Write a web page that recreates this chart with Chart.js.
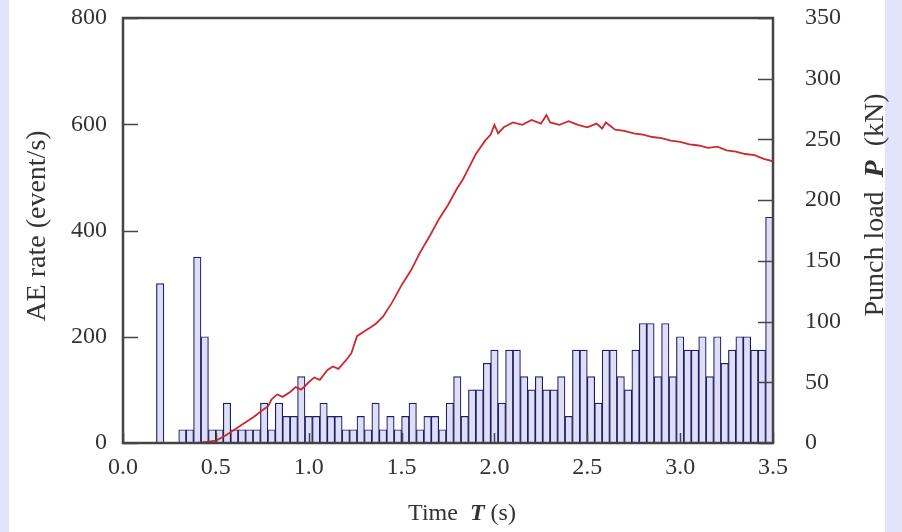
<!DOCTYPE html>
<html>
<head>
<meta charset="utf-8">
<script src="https://cdn.jsdelivr.net/npm/chart.js@4/dist/chart.umd.min.js"></script>
<style>
  html, body { margin: 0; padding: 0; background: #e3e3fb; }
  #wrap { position: relative; width: 902px; height: 532px; }
  canvas { display: block; }
</style>
</head>
<body>
<div id="wrap"><canvas id="aeChart" width="902" height="532"></canvas></div>
<script>
// AE event rate, 0.04 s bins (bin start time, events/s)
const binStart = [
  0.18, 0.22, 0.26, 0.30, 0.34, 0.38, 0.42, 0.46, 0.50, 0.54,
  0.58, 0.62, 0.66, 0.70, 0.74, 0.78, 0.82, 0.86, 0.90, 0.94,
  0.98, 1.02, 1.06, 1.10, 1.14, 1.18, 1.22, 1.26, 1.30, 1.34,
  1.38, 1.42, 1.46, 1.50, 1.54, 1.58, 1.62, 1.66, 1.70, 1.74,
  1.78, 1.82, 1.86, 1.90, 1.94, 1.98, 2.02, 2.06, 2.10, 2.14,
  2.18, 2.22, 2.26, 2.30, 2.34, 2.38, 2.42, 2.46, 2.50, 2.54,
  2.58, 2.62, 2.66, 2.70, 2.74, 2.78, 2.82, 2.86, 2.90, 2.94,
  2.98, 3.02, 3.06, 3.10, 3.14, 3.18, 3.22, 3.26, 3.30, 3.34,
  3.38, 3.42, 3.46
];
const aeRate = [
  300, 0, 0, 25, 25, 350, 200, 25, 25, 75,
  25, 25, 25, 25, 75, 25, 75, 50, 50, 125,
  50, 50, 75, 50, 50, 25, 25, 50, 25, 75,
  25, 50, 25, 50, 75, 25, 50, 50, 25, 75,
  125, 50, 100, 100, 150, 175, 75, 175, 175, 125,
  100, 125, 100, 100, 125, 50, 175, 175, 125, 75,
  175, 175, 125, 100, 175, 225, 225, 125, 225, 125,
  200, 175, 175, 200, 125, 200, 150, 175, 200, 200,
  175, 175, 425
];
const binWidth = 0.04;

// punch load trace (s, kN)
const loadTime = [
  0.15, 0.20, 0.25, 0.30, 0.35, 0.40, 0.45, 0.50, 0.55, 0.60,
  0.65, 0.70, 0.75, 0.78, 0.80, 0.83, 0.86, 0.90, 0.93, 0.96,
  1.00, 1.03, 1.06, 1.10, 1.13, 1.16, 1.20, 1.23, 1.26, 1.30,
  1.33, 1.36, 1.40, 1.45, 1.50, 1.55, 1.60, 1.65, 1.70, 1.75,
  1.80, 1.83, 1.86, 1.90, 1.95, 1.98, 2.00, 2.02, 2.05, 2.10,
  2.15, 2.20, 2.25, 2.28, 2.30, 2.35, 2.40, 2.45, 2.50, 2.55,
  2.58, 2.60, 2.65, 2.70, 2.75, 2.80, 2.85, 2.90, 2.95, 3.00,
  3.05, 3.10, 3.15, 3.20, 3.25, 3.30, 3.35, 3.40, 3.45, 3.50
];
const loadKN = [
  0, 0, 0, 0, 0, 0, 1, 2, 6, 11,
  16, 21, 27, 30, 36, 40, 38, 42, 46, 44,
  50, 54, 52, 60, 63, 61, 68, 74, 88, 92,
  95, 98, 104, 116, 130, 142, 157, 170, 184, 196,
  210, 217, 226, 238, 249, 254, 262, 255, 260, 264,
  262, 266, 263, 270, 264, 262, 265, 262, 260, 263,
  259, 264, 258, 257, 255, 254, 252, 251, 249, 248,
  246, 245, 243, 244, 241, 240, 238, 237, 234, 232
];

const xTicks = [0, 0.5, 1.0, 1.5, 2.0, 2.5, 3.0, 3.5];

const serif = "'Liberation Serif', 'DejaVu Serif', serif";
const inkColor = '#333333';

// white sheet behind the plot, lavender margins
const pagePlugin = {
  id: 'page',
  beforeDraw(chart) {
    const ctx = chart.ctx;
    ctx.save();
    ctx.fillStyle = '#e3e3fb';
    ctx.fillRect(0, 0, chart.width, chart.height);
    ctx.fillStyle = '#ffffff';
    ctx.fillRect(9, 0, 876, chart.height);
    ctx.restore();
  }
};

// frame and inward tick marks
const framePlugin = {
  id: 'frame',
  afterDatasetsDraw(chart) {
    const { ctx, chartArea: a, scales } = chart;
    ctx.save();
    ctx.strokeStyle = '#444444';
    ctx.lineWidth = 1.5;
    ctx.beginPath();
    scales.y.ticks.forEach(t => {
      const py = Math.round(scales.y.getPixelForValue(t.value)) + 0.5;
      ctx.moveTo(a.left, py); ctx.lineTo(a.left + 15, py);
    });
    scales.y1.ticks.forEach(t => {
      const py = Math.round(scales.y1.getPixelForValue(t.value)) + 0.5;
      ctx.moveTo(a.right, py); ctx.lineTo(a.right - 15, py);
    });
    xTicks.forEach(v => {
      const px = Math.round(scales.x.getPixelForValue(v)) + 0.5;
      ctx.moveTo(px, a.bottom); ctx.lineTo(px, a.bottom - 10);
    });
    ctx.stroke();
    ctx.lineWidth = 2.5;
    ctx.strokeRect(a.left, a.top, a.right - a.left, a.bottom - a.top);
    ctx.restore();
  }
};

// axis titles with bold italic symbols
function drawParts(ctx, parts, cx, cy, angle) {
  let total = 0;
  parts.forEach(p => { ctx.font = p.font; p.w = ctx.measureText(p.text).width; total += p.w; });
  ctx.save();
  ctx.translate(cx, cy);
  ctx.rotate(angle);
  ctx.textBaseline = 'middle';
  ctx.textAlign = 'left';
  ctx.fillStyle = inkColor;
  let x = -total / 2;
  parts.forEach(p => { ctx.font = p.font; ctx.fillText(p.text, x, 0); x += p.w; });
  ctx.restore();
}

const titlePlugin = {
  id: 'titles',
  afterDraw(chart) {
    const ctx = chart.ctx;
    const reg = '24px ' + serif;
    const bi = 'italic bold 24px ' + serif;
    const side = '28px ' + serif;
    const sideBi = 'italic bold 28px ' + serif;
    drawParts(ctx, [{ text: 'AE rate (event/s)', font: side }], 38, 226, -Math.PI / 2);
    drawParts(ctx, [
      { text: 'Punch load  ', font: side },
      { text: 'P', font: sideBi },
      { text: '  (kN)', font: side }
    ], 876, 205, -Math.PI / 2);
    drawParts(ctx, [
      { text: 'Time  ', font: reg },
      { text: 'T', font: bi },
      { text: ' (s)', font: reg }
    ], 462, 514, 0);
  }
};

const barPoints = binStart.map((s, i) => ({ x: +(s + binWidth / 2).toFixed(2), y: aeRate[i] }));
const linePoints = loadTime.map((t, i) => ({ x: t, y: loadKN[i] }));

const tickFont = { family: serif, size: 24 };

new Chart(document.getElementById('aeChart'), {
  type: 'bar',
  data: {
    datasets: [
      {
        type: 'line',
        label: 'Punch load',
        data: linePoints,
        yAxisID: 'y1',
        borderColor: '#cc2a2e',
        borderWidth: 1.8,
        pointRadius: 0,
        tension: 0,
        order: 0
      },
      {
        type: 'bar',
        label: 'AE rate',
        data: barPoints,
        yAxisID: 'y',
        backgroundColor: '#dedef7',
        borderColor: '#1e1e62',
        borderWidth: 1.2,
        barPercentage: 1,
        categoryPercentage: 1,
        order: 1
      }
    ]
  },
  options: {
    responsive: false,
    animation: false,
    devicePixelRatio: 1,
    layout: { padding: { top: 18, left: 0, right: 0, bottom: 0 } },
    plugins: { legend: { display: false }, tooltip: { enabled: false } },
    scales: {
      x: {
        type: 'linear',
        offset: false,
        min: 0,
        max: 3.5,
        grid: { display: false, drawTicks: false },
        border: { display: false },
        afterBuildTicks: s => { s.ticks = xTicks.map(v => ({ value: v })); },
        ticks: {
          font: tickFont,
          color: inkColor,
          padding: 10,
          maxRotation: 0,
          callback: v => Number(v).toFixed(1)
        },
        afterFit: s => { s.height = 89; s.paddingLeft = 0; s.paddingRight = 0; }
      },
      y: {
        position: 'left',
        min: 0,
        max: 800,
        grid: { display: false, drawTicks: false },
        border: { display: false },
        ticks: { stepSize: 200, font: tickFont, color: inkColor, padding: 16 },
        afterFit: s => { s.width = 123; s.paddingTop = 0; s.paddingBottom = 0; }
      },
      y1: {
        position: 'right',
        min: 0,
        max: 350,
        grid: { display: false, drawTicks: false },
        border: { display: false },
        ticks: { stepSize: 50, font: tickFont, color: inkColor, padding: 32 },
        afterFit: s => { s.width = 129; s.paddingTop = 0; s.paddingBottom = 0; }
      }
    }
  },
  plugins: [pagePlugin, framePlugin, titlePlugin]
});
</script>
</body>
</html>
